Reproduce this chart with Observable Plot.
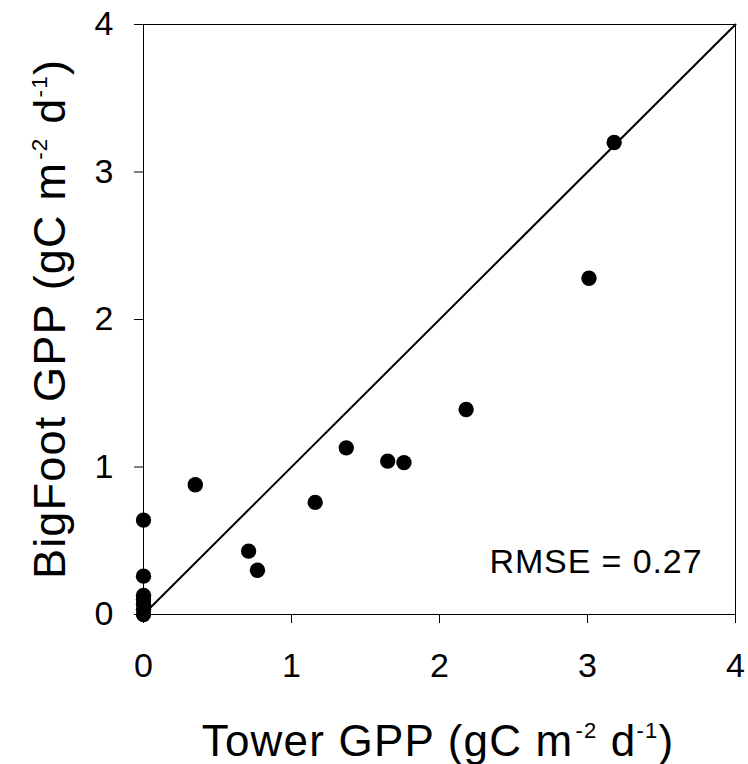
<!DOCTYPE html>
<html>
<head>
<meta charset="utf-8">
<script src="https://cdn.jsdelivr.net/npm/d3@7"></script>
<script src="https://cdn.jsdelivr.net/npm/@observablehq/plot@0.6"></script>
<style>
  html, body { margin: 0; padding: 0; background: #fff; }
  svg { display: block; }
</style>
</head>
<body>
<div id="chart"></div>
<script>
// Data
const towerGPP   = [0, 0, 0, 0, 0, 0, 0, 0.35, 0.71, 0.77, 1.16, 1.37, 1.65, 1.76, 2.18, 3.01, 3.18];
const bigfootGPP = [0.64, 0.26, 0.13, 0.10, 0.07, 0.035, 0.0, 0.88, 0.43, 0.30, 0.76, 1.13, 1.04, 1.03, 1.39, 2.28, 3.20];
const axisTicks  = [0, 1, 2, 3, 4];
const oneToOne   = [0, 4];
const rmseLabel  = ["RMSE = 0.27"];
const xTitle = {main: "Tower GPP (gC m", sup1: "-2", mid: " d", sup2: "-1", end: ")"};
const yTitle = {main: "BigFoot GPP (gC m", sup1: "-2", mid: " d", sup2: "-1", end: ")"};

const points = towerGPP.map((x, i) => ({x, y: bigfootGPP[i]}));

const FONT = "'Liberation Sans', Arial, sans-serif";

const svg = Plot.plot({
  width: 748,
  height: 764,
  marginLeft: 143,
  marginRight: 13,
  marginTop: 24,
  marginBottom: 150,
  style: {fontFamily: FONT, background: "#fff", color: "#000"},
  x: {domain: [0, 4], label: null},
  y: {domain: [0, 4], label: null},
  marks: [
    Plot.frame({stroke: "#000", strokeWidth: 1}),
    Plot.axisX(axisTicks, {tickSize: 9, tickPadding: 29, fontSize: 34, label: null, tickFormat: d3.format("d"), stroke: "#000", fill: "#000"}),
    Plot.axisY(axisTicks, {tickSize: 9, tickPadding: 21, fontSize: 34, label: null, tickFormat: d3.format("d"), stroke: "#000", fill: "#000"}),
    Plot.line(oneToOne, {x: d => d, y: d => d, stroke: "#000", strokeWidth: 2}),
    Plot.dot(points, {x: "x", y: "y", r: 7.7, fill: "#000", stroke: "none"}),
    Plot.text(rmseLabel, {frameAnchor: "bottom-right", textAnchor: "end", lineAnchor: "middle",
                          dx: -33, dy: -52, fontSize: 34, fill: "#000"})
  ]
});

document.getElementById("chart").appendChild(svg);
d3.select(svg).selectAll("text").filter(function() { return this.textContent === rmseLabel[0]; })
  .attr("letter-spacing", "0.9px");

// Axis titles with superscripts
function addTitle(t, size, attrs) {
  const g = d3.select(svg).append("text")
    .attr("font-family", FONT)
    .attr("font-size", size)
    .attr("letter-spacing", "1.2px")
    .attr("fill", "#000")
    .attr("text-anchor", "middle");
  for (const [k, v] of Object.entries(attrs)) g.attr(k, v);
  g.append("tspan").text(t.main);
  g.append("tspan").attr("font-size", size / 2).attr("baseline-shift", size * 0.41).attr("dx", 2).text(t.sup1);
  g.append("tspan").text(t.mid);
  g.append("tspan").attr("font-size", size / 2).attr("baseline-shift", size * 0.41).text(t.sup2);
  g.append("tspan").text(t.end);
  return g;
}
addTitle(xTitle, 44, {x: 438, y: 756});
addTitle(yTitle, 45, {transform: "translate(65,319) rotate(-90)"});
</script>
</body>
</html>
